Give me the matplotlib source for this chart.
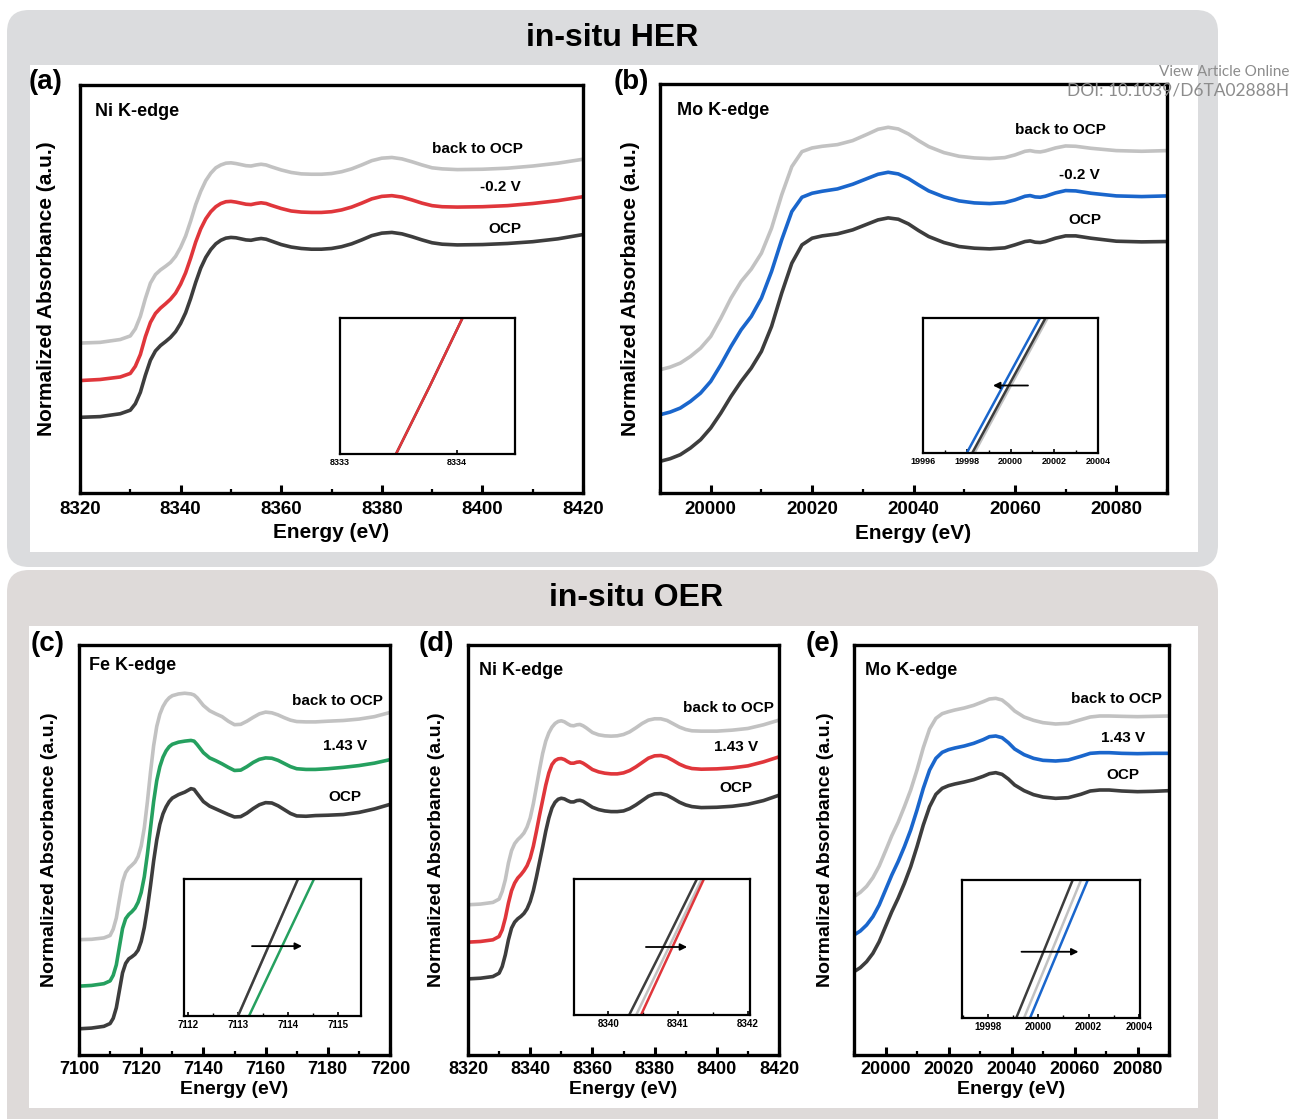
import matplotlib
matplotlib.use('Agg')
import matplotlib.pyplot as plt
from matplotlib.patches import FancyBboxPatch, Rectangle
from matplotlib.ticker import MultipleLocator

plt.rcParams['font.family'] = ['Liberation Sans', 'DejaVu Sans']
plt.rcParams['font.weight'] = 'bold'

# ---------------- data ----------------
# (a) in-situ HER, Ni K-edge
E_a = [8320, 8324, 8328, 8330,
       8331, 8332, 8333, 8334, 8335, 8336, 8337, 8338, 8339, 8340, 8341, 8342, 8343, 8344,
       8345, 8346, 8347, 8348, 8349, 8350, 8351, 8352, 8353, 8354, 8355, 8356, 8357, 8358,
       8360, 8362, 8364, 8366, 8368, 8370, 8372, 8374, 8376, 8378, 8380, 8382, 8384, 8386,
       8388, 8390, 8392,
       8395, 8400, 8405, 8410, 8415, 8420]
a_ocp = [212, 214, 222, 232,
         250, 282, 330, 372, 398, 413, 424, 436, 452, 475, 505, 545, 590, 630,
         660, 682, 698, 708, 714, 716, 715, 712, 709, 708, 711, 713, 711, 706,
         696, 689, 685, 683, 683, 685, 690, 698, 709, 721, 728, 730, 726, 718, 709, 701, 697,
         695, 696, 699, 704, 712, 724]
a_v = [315, 318, 325, 335,
       355, 388, 438, 478, 503, 518, 530, 543, 560, 585, 617, 658, 703, 740,
       768, 788, 802, 811, 816, 817, 815, 812, 809, 808, 811, 813, 811, 806,
       797, 790, 787, 786, 786, 788, 793, 801, 812, 824, 831, 833, 829, 821, 812, 805, 802,
       801, 802, 805, 811, 819, 830]
a_back = [420, 422, 430, 440,
          460, 495, 545, 588, 612, 625, 635, 646, 663, 688, 720, 762, 808, 845,
          875, 896, 911, 919, 924, 925, 923, 920, 917, 916, 919, 921, 919, 914,
          905, 898, 894, 893, 893, 895, 900, 908, 919, 931, 938, 940, 936, 928, 919, 911, 908,
          906, 907, 910, 916, 924, 935]

# (b) in-situ HER, Mo K-edge
E_b = [19990, 19992, 19994, 19996, 19998, 20000, 20002, 20004, 20006, 20008, 20010, 20012,
       20014, 20016, 20018, 20020,
       20022, 20025, 20028, 20031, 20033, 20035, 20037, 20039, 20041, 20043, 20046, 20049,
       20052, 20055, 20058, 20060, 20062, 20063, 20064, 20065, 20066, 20068, 20070, 20072,
       20075, 20080, 20085, 20090]
b_ocp = [95, 103, 115, 135, 160, 195, 240, 290, 335, 375, 425, 500, 600, 690, 745, 765,
         772, 778, 790, 808, 820, 826, 822, 808, 788, 770, 752, 740, 735, 733, 736, 745,
         755, 757, 753, 752, 755, 765, 772, 772, 765, 756, 754, 755]
b_v = [235, 243, 255, 275, 300, 335, 385, 440, 490, 530, 585, 665, 760, 845, 888, 900,
       906, 913, 927, 945, 957, 963, 958, 944, 925, 907, 889, 877, 871, 869, 872, 880,
       891, 893, 889, 888, 891, 901, 908, 907, 900, 892, 890, 892]
b_back = [370, 378, 390, 410, 435, 470, 525, 585, 635, 672, 720, 795, 895, 980, 1025, 1036,
          1041, 1046, 1058, 1078, 1092, 1098, 1093, 1078, 1058, 1040, 1022, 1011, 1006, 1004,
          1007, 1015, 1026, 1028, 1025, 1024, 1027, 1036, 1042, 1041, 1035, 1028, 1026, 1028]

# (c) in-situ OER, Fe K-edge
E_c = [7100, 7104, 7108, 7110,
       7111, 7112, 7113, 7114, 7115, 7116, 7117, 7118, 7119, 7120, 7121, 7122, 7123, 7124,
       7125, 7126, 7127, 7128, 7129, 7130,
       7132, 7134, 7136, 7137, 7138,
       7140, 7142, 7144, 7146, 7148, 7150, 7152, 7154, 7156, 7158, 7160, 7162, 7164, 7166,
       7168, 7170,
       7173, 7176, 7180, 7185, 7190, 7195, 7200]
c_ocp = [75, 77, 82, 90,
         105, 135, 185, 235, 262, 275, 281, 288, 300, 325, 365, 420, 485, 555, 615, 660,
         690, 710, 725, 735,
         745, 752, 762, 760, 748,
         725, 712, 704, 696, 688, 681, 682, 692, 705, 716, 722, 721, 713, 702, 691, 684,
         683, 685, 686, 688, 694, 704, 717]
c_v = [197, 199, 204, 212,
       228, 258, 310, 362, 390, 402, 410, 420, 437, 465, 510, 575, 650, 725, 785, 825,
       852, 870, 882, 889,
       895, 898, 900, 898, 888,
       865, 850, 842, 833, 823, 814, 815, 825, 837, 846, 850, 849, 843, 834, 825, 819,
       817, 817, 819, 823, 828, 835, 845]
c_back = [330, 331, 335, 342,
          360, 392, 445, 495, 522, 535, 543, 552, 568, 598, 650, 725, 810, 885, 940, 975,
          997, 1012, 1022, 1028,
          1033, 1035, 1033, 1030, 1022,
          1000, 985, 976, 968, 955, 945, 946, 955, 966, 976, 981, 979, 973, 965, 958, 954,
          953, 953, 955, 957, 961, 968, 980]

# (d) in-situ OER, Ni K-edge
E_d = E_a
d_ocp = [228, 230, 235, 245,
         265, 300, 345, 380, 398, 408, 415, 424, 438, 460, 492, 533, 578, 623,
         670, 710, 740, 757, 766, 769, 767, 762, 758, 758, 762, 763, 760, 754,
         742, 735, 731, 729, 729, 731, 738, 749, 762, 775, 782, 783, 778, 768, 757, 749, 744,
         741, 742, 745, 751, 762, 778]
d_v = [338, 340, 345, 355,
       375, 410, 455, 492, 515, 530, 540, 552, 567, 590, 625, 670, 718, 763,
       808, 845, 870, 882, 887, 888, 885, 879, 874, 874, 877, 878, 874, 868,
       855, 848, 844, 842, 842, 845, 852, 863, 876, 889, 896, 897, 892, 882, 871, 863, 858,
       856, 857, 860, 866, 878, 893]
d_back = [450, 452, 457, 467,
          490, 525, 575, 612, 633, 645, 654, 665, 683, 710, 752, 803, 855, 903,
          940, 965, 982, 993, 999, 1001, 998, 992, 987, 986, 989, 990, 986, 980,
          966, 959, 956, 955, 956, 960, 968, 980, 993, 1003, 1007, 1007, 1002, 992, 982, 975, 971,
          970, 970, 973, 978, 989, 1003]

# (e) in-situ OER, Mo K-edge
E_e = [19990, 19992, 19994, 19996, 19998, 20000, 20002, 20004, 20006, 20008, 20010, 20012,
       20014, 20016, 20018, 20020,
       20022, 20025, 20028, 20031, 20033, 20035, 20037, 20039, 20041, 20044, 20047, 20050,
       20054, 20058, 20062, 20065, 20068, 20071, 20075, 20080, 20085, 20090]
e_ocp = [250, 262, 280, 305, 340, 385, 430, 470, 515, 565, 625, 690, 745, 782, 800, 808,
         813, 819, 826, 836, 844, 847, 842, 828, 810, 793, 781, 774, 770, 772, 782, 792,
         795, 795, 792, 790, 791, 793]
e_v = [360, 372, 390, 415, 450, 495, 540, 580, 625, 675, 735, 800, 855, 890, 908, 916,
       921, 927, 935, 946, 955, 957, 952, 937, 918, 901, 890, 884, 882, 885, 896, 905,
       907, 907, 905, 904, 905, 905]
e_back = [475, 488, 506, 532, 567, 612, 658, 698, 745, 795, 855, 922, 978, 1010, 1024, 1030,
          1035, 1041, 1049, 1060, 1068, 1070, 1065, 1050, 1032, 1014, 1004, 997, 993, 995,
          1006, 1014, 1017, 1017, 1016, 1015, 1016, 1017]

# inset edge segments (energy at relative heights 0, 0.5, 1)
ins_y = [0.0, 0.5, 1.0]
ia_ocp = [8333.48, 8333.77, 8334.05]
ia_v = [8333.48, 8333.77, 8334.05]
ib_ocp = [19998.25, 19999.92, 20001.6]
ib_back = [19998.35, 20000.02, 20001.7]
ib_v = [19998.0, 19999.67, 20001.35]
ic_ocp = [7113.0, 7113.6, 7114.2]
ic_back = [7113.0, 7113.6, 7114.2]
ic_v = [7113.22, 7113.87, 7114.52]
id_ocp = [8340.3, 8340.79, 8341.27]
id_back = [8340.4, 8340.87, 8341.34]
id_v = [8340.47, 8340.92, 8341.37]
ie_ocp = [19999.12, 20000.25, 20001.37]
ie_back = [19999.43, 20000.57, 20001.7]
ie_v = [19999.67, 20000.82, 20001.97]

labels_her = ['back to OCP', '-0.2 V', 'OCP']
labels_oer = ['back to OCP', '1.43 V', 'OCP']

# ---------------- styling ----------------
W, H = 1293, 1119
C_DARK = '#3d3d3d'
C_GRAY = '#c2c2c2'
C_RED = '#e0363b'
C_BLUE = '#1a66cc'
C_GREEN = '#25a05f'

fig = plt.figure(figsize=(W / 100, H / 100), dpi=100)
fig.patch.set_facecolor('white')


def rect(x0, y0, x1, y1):
    return [x0 / W, 1 - y1 / H, (x1 - x0) / W, (y1 - y0) / H]


def bg_round(x0, y0, x1, y1, color, r):
    p = FancyBboxPatch((x0 / 100, (H - y1) / 100), (x1 - x0) / 100, (y1 - y0) / 100,
                       boxstyle=f"round,pad=0,rounding_size={r / 100}",
                       transform=fig.dpi_scale_trans, fc=color, ec='none', zorder=-10)
    fig.add_artist(p)


def bg_rect(x0, y0, x1, y1, color):
    p = Rectangle((x0 / 100, (H - y1) / 100), (x1 - x0) / 100, (y1 - y0) / 100,
                  transform=fig.dpi_scale_trans, fc=color, ec='none', zorder=-9)
    fig.add_artist(p)


bg_round(7, 10, 1218, 567, '#dbdcde', 22)
bg_round(7, 570, 1218, 1140, '#dedad9', 22)
bg_rect(30, 65, 1198, 552, 'white')
bg_rect(29, 626, 1198, 1108, 'white')

fig.text(612 / W, 1 - 38 / H, 'in-situ HER', ha='center', va='center', fontsize=23, fontweight='bold')
fig.text(636 / W, 1 - 598 / H, 'in-situ OER', ha='center', va='center', fontsize=23, fontweight='bold')

fig.text(1289 / W, 1 - 72 / H, 'View Article Online', ha='right', va='center', fontsize=11,
         fontweight='normal', family=['Lato', 'DejaVu Sans'], color='#8c8c8c')
fig.text(1289 / W, 1 - 91 / H, 'DOI: 10.1039/D6TA02888H', ha='right', va='center', fontsize=12.5,
         fontweight='normal', family=['Lato', 'DejaVu Sans'], color='#8c8c8c')


def main_axes(box, E, curves, colors, xlim, ylim, edge, labels, lab_pos,
              edge_pos, panel, panel_xy, ylab_x, xlab_y, fs_ylab, fs_xlab, fs_tick, pad):
    ax = fig.add_axes(rect(*box))
    for yv, c in zip(curves, colors):
        ax.plot(E, yv, color=c, lw=2.6, solid_capstyle='round', solid_joinstyle='round')
    ax.set_xlim(*xlim)
    ax.set_ylim(*ylim)
    ax.set_yticks([])
    ax.xaxis.set_major_locator(MultipleLocator(20))
    ax.xaxis.set_minor_locator(MultipleLocator(10))
    ax.tick_params(axis='x', which='major', direction='in', length=6, width=2.2,
                   labelsize=fs_tick, pad=pad)
    ax.tick_params(axis='x', which='minor', direction='in', length=3, width=1.6)
    for s in ax.spines.values():
        s.set_linewidth(2.4)
    ax.text(0.5, xlab_y, 'Energy (eV)', transform=ax.transAxes, ha='center', va='center',
            fontsize=fs_xlab, fontweight='bold')
    ax.text(ylab_x, 0.5, 'Normalized Absorbance (a.u.)', transform=ax.transAxes, ha='center',
            va='center', rotation=90, fontsize=fs_ylab, fontweight='bold')
    ax.text(edge_pos[0], edge_pos[1], edge, transform=ax.transAxes, ha='left', va='center',
            fontsize=13, fontweight='bold')
    for t, (px, py) in zip(labels, lab_pos):
        ax.text(px, py, t, transform=ax.transAxes, ha='center', va='center', fontsize=11,
                fontweight='bold')
    fig.text(panel_xy[0] / W, 1 - panel_xy[1] / H, panel, ha='left', va='center',
             fontsize=20, fontweight='bold')
    return ax


def inset_axes(box, curves, colors, xlim, ticks, minor, arrow=None, fs=6.5):
    ax = fig.add_axes(rect(*box))
    for xv, c in zip(curves, colors):
        ax.plot(xv, ins_y, color=c, lw=1.8)
    ax.set_xlim(*xlim)
    ax.set_ylim(0, 1)
    ax.set_yticks([])
    ax.set_xticks(ticks)
    ax.set_xticklabels([str(t) for t in ticks])
    if minor:
        ax.xaxis.set_minor_locator(MultipleLocator(minor))
    ax.tick_params(axis='x', which='major', direction='in', length=3, width=1.2,
                   labelsize=fs, pad=3)
    ax.tick_params(axis='x', which='minor', direction='in', length=2, width=1)
    for s in ax.spines.values():
        s.set_linewidth(1.6)
    if arrow is not None:
        (x0, x1, y) = arrow
        ax.annotate('', xy=(x1, y), xytext=(x0, y),
                    arrowprops=dict(arrowstyle='-|>', color='black', lw=1.3,
                                    mutation_scale=10, shrinkA=0, shrinkB=0))
    return ax


# (a)
main_axes((80, 85, 583, 493), E_a, [a_back, a_v, a_ocp], [C_GRAY, C_RED, C_DARK],
          (8320, 8420), (0, 1143), 'Ni K-edge', labels_her,
          [(0.791, 0.843), (0.835, 0.750), (0.845, 0.648)], (0.03, 0.934),
          '(a)', (29, 82), -0.066, -0.098, 15, 15, 13.5, 6)
inset_axes((340, 318, 515, 454), [ia_ocp, ia_v], [C_DARK, C_RED],
           (8333, 8334.5), [8333, 8334], None)

# (b)
main_axes((660, 84, 1167, 493), E_b, [b_back, b_v, b_ocp], [C_GRAY, C_BLUE, C_DARK],
          (19990, 20090), (0, 1228), 'Mo K-edge', labels_her,
          [(0.789, 0.888), (0.828, 0.778), (0.838, 0.667)], (0.034, 0.934),
          '(b)', (614, 82), -0.059, -0.098, 15, 15, 13.5, 6)
inset_axes((923, 318, 1098, 453), [ib_back, ib_ocp, ib_v], [C_GRAY, C_DARK, C_BLUE],
           (19996, 20004), [19996, 19998, 20000, 20002, 20004], 1,
           arrow=(20000.8, 19999.2, 0.5))

# (c)
main_axes((79, 645, 390, 1055), E_c, [c_back, c_v, c_ocp], [C_GRAY, C_GREEN, C_DARK],
          (7100, 7200), (0, 1173), 'Fe K-edge', labels_oer,
          [(0.83, 0.863), (0.855, 0.754), (0.855, 0.629)], (0.032, 0.949),
          '(c)', (31, 644), -0.096, -0.085, 14, 14, 13, 4)
inset_axes((184, 879, 361, 1016), [ic_back, ic_ocp, ic_v], [C_GRAY, C_DARK, C_GREEN],
           (7111.92, 7115.46), [7112, 7113, 7114, 7115], 0.5,
           arrow=(7113.28, 7114.28, 0.51), fs=7)

# (d)
main_axes((468, 645, 779, 1055), E_d, [d_back, d_v, d_ocp], [C_GRAY, C_RED, C_DARK],
          (8320, 8420), (0, 1228), 'Ni K-edge', labels_oer,
          [(0.839, 0.846), (0.862, 0.751), (0.862, 0.651)], (0.035, 0.939),
          '(d)', (419, 644), -0.10, -0.085, 14, 14, 13, 4)
inset_axes((574, 879, 750, 1015), [id_ocp, id_back, id_v], [C_DARK, C_GRAY, C_RED],
           (8339.51, 8342.03), [8340, 8341, 8342], 0.5,
           arrow=(8340.54, 8341.13, 0.5), fs=7)

# (e)
main_axes((854, 645, 1169, 1055), E_e, [e_back, e_v, e_ocp], [C_GRAY, C_BLUE, C_DARK],
          (19990, 20090), (0, 1230), 'Mo K-edge', labels_oer,
          [(0.832, 0.868), (0.854, 0.773), (0.854, 0.683)], (0.035, 0.937),
          '(e)', (806, 644), -0.092, -0.085, 14, 14, 13, 4)
inset_axes((962, 880, 1140, 1018), [ie_ocp, ie_back, ie_v], [C_DARK, C_GRAY, C_BLUE],
           (19996.96, 20004.05), [19998, 20000, 20002, 20004], 1,
           arrow=(19999.33, 20001.6, 0.48), fs=7)

fig.savefig('out.png', dpi=100, facecolor='white')
